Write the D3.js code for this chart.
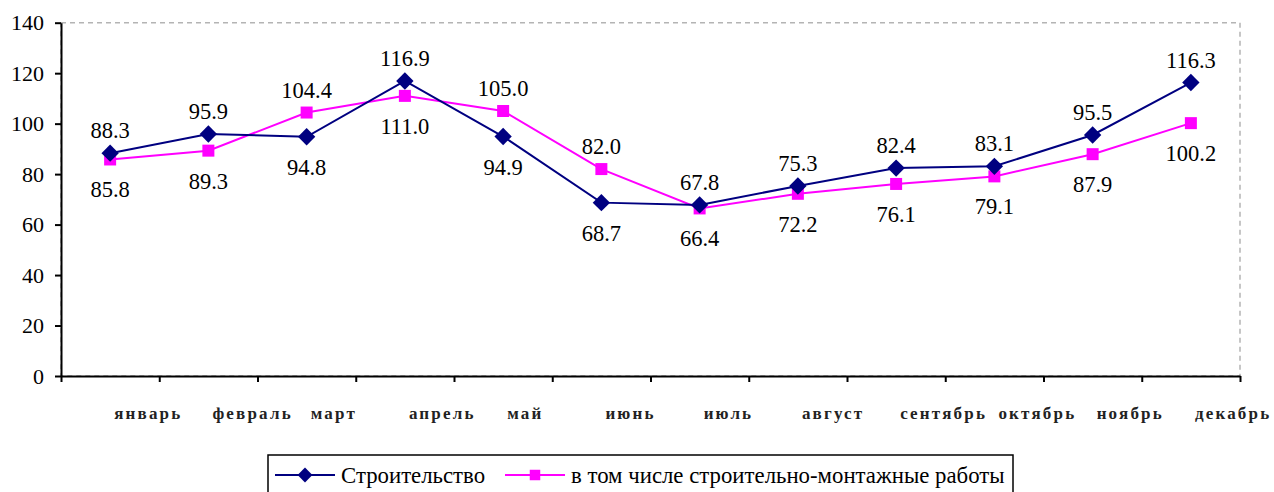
<!DOCTYPE html>
<html>
<head>
<meta charset="utf-8">
<script src="https://cdn.jsdelivr.net/npm/d3@7"></script>
<style>
  body { margin: 0; background: #fff; }
  svg { display: block; }
</style>
</head>
<body>
<svg id="chart" width="1274" height="492"></svg>
<script>
const months = ["январь", "февраль", "март", "апрель", "май", "июнь",
    "июль", "август", "сентябрь", "октябрь", "ноябрь", "декабрь"];
const construction = [88.3, 95.9, 94.8, 116.9, 94.9, 68.7, 67.8, 75.3, 82.4, 83.1, 95.5, 116.3];
const installWorks = [85.8, 89.3, 104.4, 111.0, 105.0, 82.0, 66.4, 72.2, 76.1, 79.1, 87.9, 100.2];
const yTicks = [0, 20, 40, 60, 80, 100, 120, 140];
const seriesNames = ["Строительство", "в том числе строительно-монтажные работы"];

const textFont = '"Liberation Serif"';

function drawChart() {
    let svg = d3.select("#chart");
    let left = 61, right = 1240, top = 22.7, bottom = 376;

    let x = d3.scaleBand().domain(months).range([left, right]).padding(0);
    let xEdge = d3.scaleLinear().domain([0, months.length]).range([left, right]);
    let y = d3.scaleLinear().domain([0, 140]).range([bottom, top]);

    // dashed plot area border
    svg.append("rect")
        .attr("x", left).attr("y", top)
        .attr("width", right - left).attr("height", bottom - top)
        .attr("fill", "none")
        .attr("stroke", "#b4b4b4")
        .attr("stroke-width", 1.5)
        .attr("stroke-dasharray", "5,4");

    // y axis
    let yAxis = svg.append("g")
        .attr("transform", `translate(${left},0)`)
        .call(d3.axisLeft(y).tickValues(yTicks).tickSize(6).tickSizeOuter(0).tickPadding(11))
        .attr("font-family", null)
        .attr("font-size", null);
    yAxis.select(".domain").attr("stroke", "#000").attr("stroke-width", 2);
    yAxis.selectAll(".tick line").attr("stroke", "#000").attr("stroke-width", 2);
    yAxis.selectAll(".tick text")
        .style("font-family", textFont)
        .style("font-size", "22px")
        .attr("fill", "#000");

    // x axis: ticks between months
    let xAxis = svg.append("g")
        .attr("transform", `translate(0,${bottom})`)
        .call(d3.axisBottom(xEdge).tickValues(d3.range(months.length + 1))
            .tickSize(6).tickSizeOuter(0).tickFormat(""));
    xAxis.select(".domain").attr("stroke", "#000").attr("stroke-width", 2);
    xAxis.selectAll(".tick line").attr("stroke", "#000").attr("stroke-width", 2);

    svg.append("g").selectAll("text")
        .data(months)
        .enter()
        .append("text")
        .attr("x", d => x(d) + x.bandwidth() / 2 + 4)
        .attr("y", 419)
        .style("font-family", textFont)
        .style("font-weight", "bold")
        .style("font-size", "17px")
        .style("letter-spacing", "2.2px")
        .attr("fill", "#222")
        .text(d => d);

    let cx = (d, i) => x(months[i]) + x.bandwidth() / 2;

    let series = [
        {name: seriesNames[0], values: construction, color: "#000080", marker: "diamond"},
        {name: seriesNames[1], values: installWorks, color: "#ff00ff", marker: "square"}
    ];

    let line = d3.line()
        .x(cx)
        .y(d => y(d));

    // draw the lower series first so the blue one sits on top
    [series[1], series[0]].forEach(s => {
        svg.append("path")
            .datum(s.values)
            .attr("d", line)
            .attr("fill", "none")
            .attr("stroke", s.color)
            .attr("stroke-width", 2);

        let sym = d3.symbol()
            .type(d3.symbolSquare)
            .size(s.marker === "diamond" ? 150 : 144);

        svg.append("g").selectAll("path")
            .data(s.values)
            .enter()
            .append("path")
            .attr("d", sym)
            .attr("transform", (d, i) => `translate(${cx(d, i)},${y(d)})` + (s.marker === "diamond" ? " rotate(45)" : ""))
            .attr("fill", s.color);
    });

    // value labels: higher series above its point, lower series below
    series.forEach((s, k) => {
        let other = series[1 - k].values;
        svg.append("g").selectAll("text")
            .data(s.values)
            .enter()
            .append("text")
            .attr("x", cx)
            .attr("y", (d, i) => {
                let above = k === 0 ? d >= other[i] : d > other[i];
                return above ? y(d) - 15 : y(d) + 38;
            })
            .attr("text-anchor", "middle")
            .style("font-family", textFont)
            .style("font-size", "22.5px")
            .attr("fill", "#000")
            .text(d => d.toFixed(1));
    });

    // legend
    let legend = svg.append("g");
    legend.append("rect")
        .attr("x", 268).attr("y", 455)
        .attr("width", 745).attr("height", 50)
        .attr("fill", "#fff")
        .attr("stroke", "#000")
        .attr("stroke-width", 1.5);

    let legendX = [275, 505];
    series.forEach((s, k) => {
        let lx = legendX[k], ly = 475;
        legend.append("line")
            .attr("x1", lx).attr("x2", lx + 60)
            .attr("y1", ly).attr("y2", ly)
            .attr("stroke", s.color).attr("stroke-width", 2);
        legend.append("path")
            .attr("d", d3.symbol().type(d3.symbolSquare).size(110))
            .attr("transform", `translate(${lx + 30},${ly})` + (s.marker === "diamond" ? " rotate(45)" : ""))
            .attr("fill", s.color);
        legend.append("text")
            .attr("x", lx + 66)
            .attr("y", ly + 8)
            .style("font-family", textFont)
            .style("font-size", "22.8px")
            .attr("fill", "#000")
            .text(s.name);
    });
}

drawChart();
</script>
</body>
</html>
